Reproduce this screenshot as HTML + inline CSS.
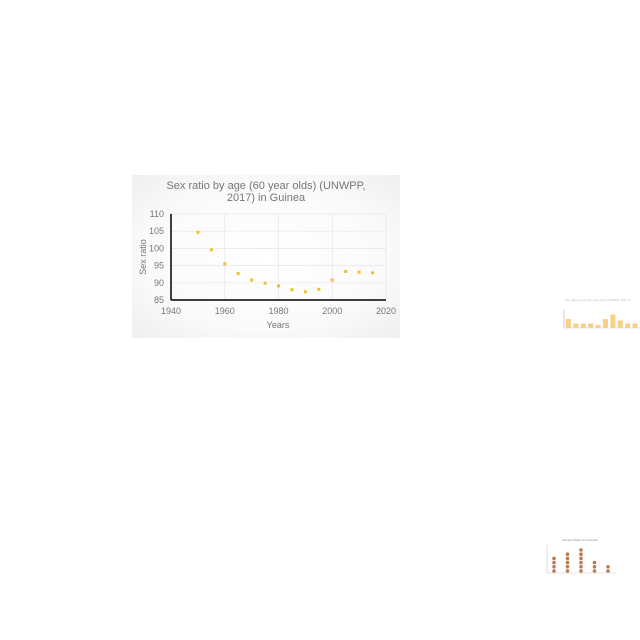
<!DOCTYPE html>
<html><head><meta charset="utf-8"><style>
body{margin:0;width:640px;height:640px;background:#fff;overflow:hidden;font-family:"Liberation Sans",sans-serif}
svg{position:absolute;left:0;top:0}
</style></head><body>
<svg width="640" height="640">
<defs><radialGradient id="bg" cx="50%" cy="50%" r="75%"><stop offset="0" stop-color="#fff"/><stop offset="0.6" stop-color="#fafafa"/><stop offset="1" stop-color="#ededed"/></radialGradient></defs>
<rect x="132" y="175" width="268" height="163" fill="url(#bg)"/>
<text x="266" y="189" text-anchor="middle" font-size="11" fill="#777">Sex ratio by age (60 year olds) (UNWPP,</text>
<text x="266" y="201" text-anchor="middle" font-size="11" fill="#777">2017) in Guinea</text>
<g id="grid"></g><g id="ticks"></g><g id="pts"></g>
<text x="278" y="328" text-anchor="middle" font-size="9" fill="#777">Years</text>
<text transform="translate(146,257) rotate(-90)" text-anchor="middle" font-size="9" fill="#777">Sex ratio</text>
<g>
<text x="598" y="301" font-size="3" text-anchor="middle" fill="#bbb">Sex ratio by age (60 year olds) (UNWPP, 2017) in</text>
<line x1="564" y1="310" x2="564" y2="328" stroke="#999" stroke-width="0.5"/>
<line x1="564" y1="328" x2="640" y2="328" stroke="#ccc" stroke-width="0.5"/>
<g id="minibars"></g>
</g>
<g>
<text x="580" y="541" font-size="2.5" text-anchor="middle" fill="#888">Average children per household</text>
<line x1="547" y1="545" x2="547" y2="573" stroke="#bbb" stroke-width="0.5"/>
<line x1="547" y1="573" x2="617" y2="573" stroke="#ccc" stroke-width="0.5"/>
<g id="minidots"></g>
</g>
</svg>
<script>
const years=[1950,1955,1960,1965,1970,1975,1980,1985,1990,1995,2000,2005,2010,2015];
const ratios=[104.7,99.6,95.5,92.7,90.8,89.9,89.1,88.0,87.4,88.1,90.8,93.3,93.1,92.9];
const xTicks=[1940,1960,1980,2000,2020];
const yTicks=[85,90,95,100,105,110];
const miniBars=[6,3,3,3,2,6,9,5,3,3];
const miniDots=[4,5,6,3,2];
const NS="http://www.w3.org/2000/svg";
const X=v=>171+(v-1940)/80*215, Y=v=>300-(v-85)/25*86;
function mk(t,a,p){const e=document.createElementNS(NS,t);for(const k in a)e.setAttribute(k,a[k]);p.appendChild(e);return e;}
const g=document.getElementById('grid'),tk=document.getElementById('ticks'),pg=document.getElementById('pts');
yTicks.forEach(v=>{const l=mk('line',{x1:171,x2:386,y1:Y(v),y2:Y(v),stroke:'#e6e6e6','stroke-width':0.7},g);


const t=mk('text',{x:164,y:Y(v)+3,'text-anchor':'end','font-size':9,fill:'#777'},tk);t.textContent=v;

});
xTicks.forEach(v=>{const l=mk('line',{x1:X(v),x2:X(v),y1:214,y2:300,stroke:'#e6e6e6','stroke-width':0.7},g);


const t=mk('text',{x:X(v),y:314,'text-anchor':'middle','font-size':9,fill:'#777'},tk);t.textContent=v;

});
const ax=mk('line',{x1:171,x2:171,y1:214,y2:300,stroke:'#000','stroke-width':1.5},tk);


const bx=mk('line',{x1:171,x2:386,y1:300,y2:300,stroke:'#000','stroke-width':1.5},tk);


years.forEach((y,i)=>{const c=mk('rect',{x:X(y)-1.5,y:Y(ratios[i])-1.5,width:3,height:3,fill:'#f0c030'},pg);

});
const mb=document.getElementById('minibars');
miniBars.forEach((v,i)=>{const r=mk('rect',{x:566+i*7.4,y:328-v*1.5,width:5,height:v*1.5,fill:'#f7d08a'},mb);

});
const md=document.getElementById('minidots');
miniDots.forEach((n,i)=>{for(let k=0;k<n;k++){const c=mk('circle',{cx:554+i*13.5,cy:571-k*4.2,r:1.8,fill:'#b87a50'},md);

}});
</script>
</body></html>
